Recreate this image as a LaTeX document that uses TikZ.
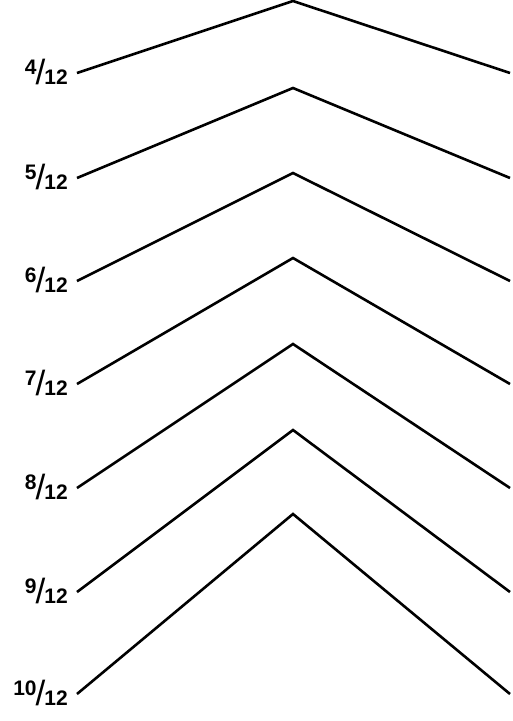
\documentclass[tikz,border=0pt]{standalone}
\usepackage{fontspec}
\setmainfont{Liberation Sans}
\newcommand{\pitchnum}[1]{{\fontsize{21}{21}\selectfont\bfseries #1}}
\newcommand{\pitchlbl}[1]{% rise over 12
  \raisebox{10pt}{\pitchnum{#1}}\hspace{-1pt}%
  {\fontsize{35}{35}\selectfont /}\hspace{-1pt}%
  \pitchnum{12}%
}

\begin{document}
\begin{tikzpicture}[x=1pt,y=-1pt,line width=2.6pt,
  roofline/.style={draw=black,line join=miter},
  pitchtext/.style={anchor=base east,inner sep=0pt}]
\useasboundingbox (0,0) rectangle (513,721);

% One roof per pitch: base height and rise
\foreach \p/\b in {4/73,5/178,6/281,7/384,8/488,9/592,10/694}{
  \coordinate (left\p) at (77,\b);
  \coordinate (peak\p) at (293,\b-18*\p);
  \coordinate (right\p) at (510,\b);
  \draw[roofline] (left\p) -- (peak\p) -- (right\p);
  \node[pitchtext] (lbl\p) at (69,\b+11) {\pitchlbl{\p}};
}

\end{tikzpicture}
\end{document}
